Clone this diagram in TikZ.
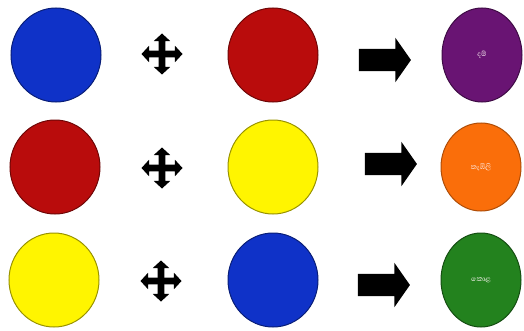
\documentclass[tikz,border=0pt]{standalone}
\usepackage{fontspec}
\newfontfamily\sinhalafont[Script=Sinhala]{Abhaya Libre}
\usetikzlibrary{shapes.geometric,shapes.arrows}

\definecolor{cblue}{RGB}{15,50,200}
\definecolor{cred}{RGB}{185,12,12}
\definecolor{cyellow}{RGB}{255,245,0}
\definecolor{cpurple}{RGB}{105,20,115}
\definecolor{corange}{RGB}{250,110,10}
\definecolor{cgreen}{RGB}{35,130,30}

\begin{document}
\begin{tikzpicture}[x=1pt,y=1pt,
    paint/.style={ellipse, inner sep=0pt, minimum width=90pt, minimum height=94pt, line width=1pt},
    mix/.style={ellipse, inner sep=0pt, minimum width=80pt, minimum height=94pt, line width=1pt,
      font=\sinhalafont\fontsize{9}{10}\selectfont, text=white!85!pink},
    plus/.style={double arrow, fill=black, inner sep=3.2pt, double arrow head extend=4.8pt,
      double arrow tip angle=95, minimum height=41pt},
    yields/.style={single arrow, fill=black, inner sep=11pt, single arrow head extend=11pt,
      single arrow tip angle=110, minimum height=52pt}]
  \useasboundingbox (0,0) rectangle (524,330);
  % row 1
  \node[paint, fill=cblue, draw=cblue!60!black] (b1) at (56,275) {};
  \node[paint, fill=cred, draw=cred!60!black] (r1) at (273,275) {};
  \node[mix, fill=cpurple, draw=cpurple!60!black] (p1) at (482,275) {දම්};
  \node[plus] (px1) at (162,276) {};
  \node[plus, rotate=90] (py1) at (162,276) {};
  \node[yields] (a1) at (381,270) {};
  % row 2
  \node[paint, fill=cred, draw=cred!60!black] (r2) at (55,163) {};
  \node[paint, fill=cyellow, draw=cyellow!60!black] (y2) at (273,163) {};
  \node[mix, minimum height=88pt, fill=corange, draw=corange!70!black] (o2) at (481,163) {තැඹිලි};
  \node[plus] (px2) at (162,162) {};
  \node[plus, rotate=90] (py2) at (162,162) {};
  \node[yields] (a2) at (387,166) {};
  % row 3
  \node[paint, fill=cyellow, draw=cyellow!60!black] (y3) at (54,50) {};
  \node[paint, fill=cblue, draw=cblue!60!black] (b3) at (273,50) {};
  \node[mix, fill=cgreen, draw=cgreen!60!black] (g3) at (481,50) {කොළ};
  \node[plus] (px3) at (161,49) {};
  \node[plus, rotate=90] (py3) at (161,49) {};
  \node[yields] (a3) at (380,45) {};
\end{tikzpicture}
\end{document}
